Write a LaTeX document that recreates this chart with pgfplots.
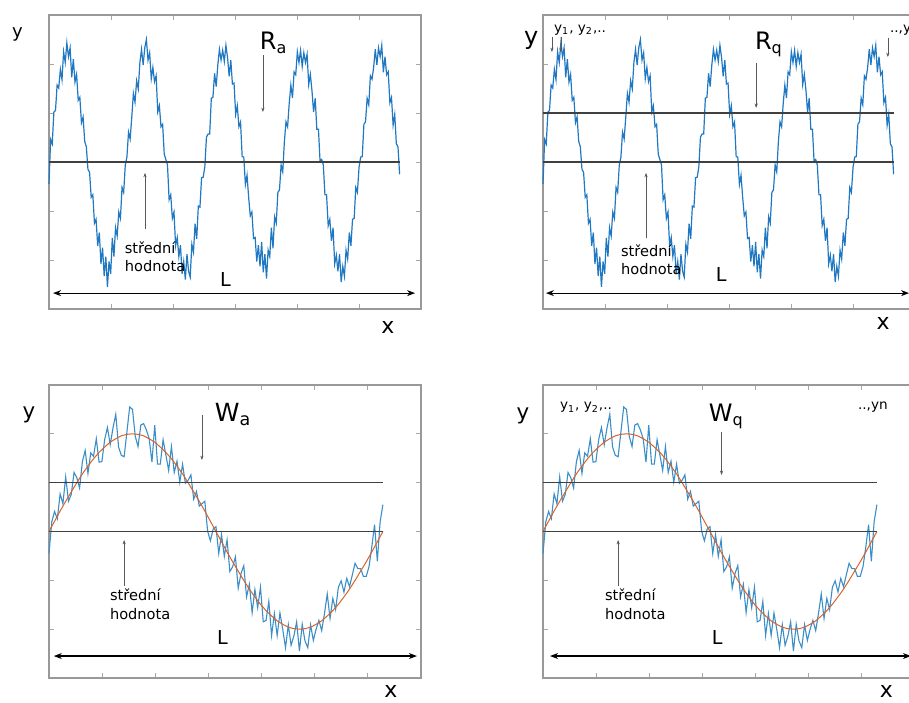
\documentclass[border=0pt]{standalone}
\usepackage{fontspec}
\setmainfont{DejaVu Sans}
\usepackage{pgfplots}
\pgfplotsset{compat=1.18}
\usepackage{pgfplotstable}
\usetikzlibrary{arrows.meta}
\definecolor{mblue}{HTML}{1F78C1}
\definecolor{lblue}{HTML}{3B8EC6}
\definecolor{morange}{HTML}{D9622B}

% top signal: index k (x = k*pi/120), noisy value
\pgfplotstableread[row sep=\\]{
k y\\
0 -0.45\\ 1 0.46\\ 2 0.37\\ 3 1.02\\ 4 1.05\\ 5 1.57\\ 6 1.51\\ 7 1.89\\ 8 1.68\\ 9 2.25\\
10 2.03\\ 11 2.43\\ 12 2.15\\ 13 2.33\\ 14 1.73\\ 15 2.10\\ 16 1.63\\ 17 1.79\\ 18 1.26\\ 19 1.32\\
20 0.80\\ 21 0.92\\ 22 0.42\\ 23 0.31\\ 24 -0.15\\ 25 -0.21\\ 26 -0.72\\ 27 -0.67\\ 28 -1.25\\ 29 -1.17\\
30 -1.71\\ 31 -1.44\\ 32 -2.08\\ 33 -1.75\\ 34 -2.33\\ 35 -1.93\\ 36 -2.55\\ 37 -2.03\\ 38 -2.28\\ 39 -1.55\\
40 -1.93\\ 41 -1.34\\ 42 -1.51\\ 43 -1.02\\ 44 -1.15\\ 45 -0.52\\ 46 -0.62\\ 47 -0.06\\
48 0.10\\ 49 0.61\\ 50 0.47\\ 51 0.92\\ 52 1.40\\ 53 1.22\\ 54 1.66\\ 55 1.49\\ 56 2.03\\ 57 2.30\\
58 1.98\\ 59 2.33\\ 60 2.50\\ 61 2.08\\ 62 2.23\\ 63 1.70\\ 64 1.93\\ 65 1.64\\ 66 1.76\\ 67 1.02\\
68 1.15\\ 69 0.72\\ 70 0.77\\ 71 0.16\\ 72 0.05\\ 73 -0.06\\ 74 -0.77\\ 75 -0.67\\ 76 -1.15\\ 77 -1.02\\
78 -1.71\\ 79 -1.54\\ 80 -1.93\\ 81 -1.70\\ 82 -2.28\\ 83 -2.03\\ 84 -2.40\\ 85 -1.88\\ 86 -2.23\\ 87 -2.35\\
88 -1.68\\ 89 -1.84\\ 90 -1.26\\ 91 -1.57\\ 92 -0.90\\ 93 -0.92\\ 94 -0.32\\ 95 -0.31\\
96 -0.10\\ 97 0.51\\ 98 0.57\\ 99 0.57\\ 100 1.30\\ 101 1.32\\ 102 1.81\\ 103 1.54\\ 104 1.98\\ 105 2.30\\
106 2.08\\ 107 2.28\\ 108 2.05\\ 109 2.38\\ 110 2.13\\ 111 1.75\\ 112 2.08\\ 113 1.59\\ 114 1.61\\ 115 0.97\\
116 1.15\\ 117 0.72\\ 118 0.82\\ 119 0.11\\ 120 0.10\\ 121 -0.46\\ 122 -0.27\\ 123 -0.72\\ 124 -1.10\\ 125 -1.02\\
126 -1.56\\ 127 -1.54\\ 128 -2.03\\ 129 -1.70\\ 130 -2.13\\ 131 -1.63\\ 132 -2.25\\ 133 -1.88\\ 134 -2.38\\ 135 -1.80\\
136 -1.93\\ 137 -1.34\\ 138 -1.76\\ 139 -1.12\\ 140 -1.25\\ 141 -0.62\\ 142 -0.57\\ 143 -0.06\\
144 -0.20\\ 145 0.41\\ 146 0.82\\ 147 0.72\\ 148 1.20\\ 149 1.57\\ 150 1.31\\ 151 1.84\\ 152 1.78\\ 153 2.25\\
154 2.03\\ 155 2.28\\ 156 1.95\\ 157 2.23\\ 158 2.03\\ 159 2.20\\ 160 1.58\\ 161 1.79\\ 162 1.46\\ 163 1.02\\
164 1.30\\ 165 0.67\\ 166 0.67\\ 167 0.01\\ 168 0.05\\ 169 -0.06\\ 170 -0.67\\ 171 -0.67\\ 172 -1.30\\ 173 -1.17\\
174 -1.61\\ 175 -1.34\\ 176 -2.08\\ 177 -1.90\\ 178 -2.23\\ 179 -1.88\\ 180 -2.45\\ 181 -2.13\\ 182 -2.33\\ 183 -1.80\\
184 -1.98\\ 185 -1.44\\ 186 -1.71\\ 187 -1.17\\ 188 -1.15\\ 189 -0.52\\ 190 -0.62\\ 191 -0.11\\
192 0.10\\ 193 0.11\\ 194 0.77\\ 195 0.82\\ 196 1.30\\ 197 1.17\\ 198 1.76\\ 199 1.69\\ 200 1.93\\ 201 2.30\\
202 1.98\\ 203 2.33\\ 204 2.15\\ 205 2.38\\ 206 1.83\\ 207 2.15\\ 208 1.78\\ 209 1.84\\ 210 1.21\\ 211 1.32\\
212 0.75\\ 213 0.97\\ 214 0.37\\ 215 0.31\\ 216 -0.25\\
}\topsig

% bottom signal: index k (x = k*pi/60), noisy value
\pgfplotstableread[row sep=\\]{
k y\\
0 -0.45\\ 1 0.20\\ 2 0.41\\ 3 0.26\\ 4 0.77\\ 5 0.57\\ 6 1.12\\ 7 0.62\\ 8 0.76\\ 9 1.21\\
10 1.10\\ 11 0.89\\ 12 1.43\\ 13 1.66\\ 14 1.19\\ 15 1.61\\ 16 1.54\\ 17 1.90\\ 18 1.42\\ 19 1.43\\
20 1.88\\ 21 2.13\\ 22 1.78\\ 23 2.12\\ 24 2.40\\ 25 1.73\\ 26 1.56\\ 27 1.53\\ 28 2.04\\ 29 2.55\\
30 2.50\\ 31 1.95\\ 32 1.74\\ 33 2.18\\ 34 2.21\\ 35 2.08\\ 36 1.90\\ 37 1.42\\ 38 2.18\\ 39 1.38\\
40 1.38\\ 41 1.88\\ 42 1.57\\ 43 1.25\\ 44 1.74\\ 45 1.21\\ 46 1.44\\ 47 1.01\\ 48 1.38\\ 49 0.99\\
50 1.05\\ 51 1.16\\ 52 0.66\\ 53 0.82\\ 54 0.52\\ 55 0.57\\ 56 0.62\\ 57 0.01\\ 58 -0.19\\ 59 0.05\\
60 0.10\\ 61 -0.45\\ 62 -0.06\\ 63 -0.51\\ 64 -0.17\\ 65 -0.82\\ 66 -0.72\\ 67 -0.52\\ 68 -1.16\\ 69 -0.86\\
70 -0.70\\ 71 -1.34\\ 72 -1.08\\ 73 -1.66\\ 74 -1.19\\ 75 -1.56\\ 76 -1.14\\ 77 -1.85\\ 78 -1.82\\ 79 -1.43\\
80 -2.13\\ 81 -1.68\\ 82 -2.13\\ 83 -1.67\\ 84 -2.00\\ 85 -2.38\\ 86 -1.91\\ 87 -2.33\\ 88 -2.14\\ 89 -1.85\\
90 -2.45\\ 91 -1.90\\ 92 -2.24\\ 93 -2.38\\ 94 -1.91\\ 95 -2.23\\ 96 -2.00\\ 97 -1.82\\ 98 -2.03\\ 99 -1.68\\
100 -1.28\\ 101 -1.78\\ 102 -1.37\\ 103 -1.60\\ 104 -1.14\\ 105 -1.01\\ 106 -1.24\\ 107 -0.96\\ 108 -1.13\\ 109 -0.89\\
110 -0.65\\ 111 -0.76\\ 112 -0.76\\ 113 -0.92\\ 114 -0.92\\ 115 -0.72\\ 116 -0.32\\ 117 0.14\\ 118 -0.61\\ 119 0.20\\
120 0.55\\
}\botsig

% bottom smooth wave
\pgfplotstableread[row sep=\\]{
k y\\
0 0\\ 2 0.21\\ 4 0.42\\ 6 0.62\\ 8 0.81\\ 10 1.00\\ 12 1.18\\ 14 1.34\\ 16 1.49\\ 18 1.62\\
20 1.73\\ 22 1.83\\ 24 1.90\\ 26 1.96\\ 28 1.99\\ 30 2.00\\ 32 1.99\\ 34 1.96\\ 36 1.90\\ 38 1.83\\
40 1.73\\ 42 1.62\\ 44 1.49\\ 46 1.34\\ 48 1.18\\ 50 1.00\\ 52 0.81\\ 54 0.62\\ 56 0.42\\ 58 0.21\\
60 0\\ 62 -0.21\\ 64 -0.42\\ 66 -0.62\\ 68 -0.81\\ 70 -1.00\\ 72 -1.18\\ 74 -1.34\\ 76 -1.49\\ 78 -1.62\\
80 -1.73\\ 82 -1.83\\ 84 -1.90\\ 86 -1.96\\ 88 -1.99\\ 90 -2.00\\ 92 -1.99\\ 94 -1.96\\ 96 -1.90\\ 98 -1.83\\
100 -1.73\\ 102 -1.62\\ 104 -1.49\\ 106 -1.34\\ 108 -1.18\\ 110 -1.00\\ 112 -0.81\\ 114 -0.62\\ 116 -0.42\\ 118 -0.21\\
120 0\\
}\botsmooth

\pgfplotsset{
  panel/.style={scale only axis, width=186pt, anchor=south west, clip=false,
    ymin=-3, ymax=3, ytick={-2,-1,0,1,2}, yticklabels={}, xticklabels={},
    axis line style={black!40, line width=0.8pt},
    major tick style={black!35, line width=0.4pt}, major tick length=2.5pt,
    tick align=inside},
  toppanel/.style={panel, height=147pt, xmin=0, xmax=229.18,
    xtick={38.2,76.39,114.59,152.79,190.99}},
  botpanel/.style={panel, height=146.5pt, xmin=0, xmax=133.69,
    xtick={19.1,38.2,57.3,76.39,95.49,114.59}},
}
\tikzset{
  ann/.style={-{Stealth[length=2.2pt,width=1.6pt]}, draw=black!65, line width=0.3pt},
  dbl/.style={{Stealth[length=4pt,width=3pt]}-{Stealth[length=4pt,width=3pt]}, draw=black, line width=0.55pt},
  mean/.style={draw=black!75, line width=0.6pt},
  sig/.style={mblue, line width=0.6pt},
  bsig/.style={lblue, line width=0.55pt},
  small/.style={font=\fontsize{7.3}{8.8}\selectfont},
  tiny/.style={font=\fontsize{6.8}{8}\selectfont},
}

\begin{document}
\begin{tikzpicture}
\useasboundingbox (0,0) rectangle (454.5pt,351pt);
\clip (0,0) rectangle (454.5pt,351pt);

% ---------- top left: R_a ----------
\begin{axis}[toppanel, at={(24.5pt,196.5pt)}]
\addplot[sig] table[x=k,y=y] {\topsig};
\addplot[mean] coordinates {(0,0) (216,0)};
\node[anchor=base, font=\fontsize{9}{10}\selectfont] at (rel axis cs:-0.085,0.922) {y};
\node[anchor=base west, font=\fontsize{12}{14}\selectfont] at (rel axis cs:0.548,0.881) {R\textsubscript{a}};
\draw[ann] (rel axis cs:0.575,0.864) -- (rel axis cs:0.575,0.670);
\node[anchor=base west, small] at (rel axis cs:0.185,0.190) {střední};
\node[anchor=base west, small] at (rel axis cs:0.185,0.126) {hodnota};
\draw[ann] (rel axis cs:0.258,0.272) -- (rel axis cs:0.258,0.463);
\node[anchor=base west, font=\fontsize{9.6}{11}\selectfont] at (rel axis cs:0.441,0.075) {L};
\draw[dbl] (rel axis cs:0.011,0.054) -- (rel axis cs:0.984,0.054);
\node[anchor=base, font=\fontsize{11}{12}\selectfont] at (rel axis cs:0.911,-0.085) {x};
\end{axis}

% ---------- top right: R_q ----------
\begin{axis}[toppanel, at={(271.5pt,196.5pt)}]
\addplot[sig] table[x=k,y=y] {\topsig};
\addplot[mean] coordinates {(0,0) (216,0)};
\addplot[mean] coordinates {(0,1) (216,1)};
\node[anchor=base, font=\fontsize{12}{14}\selectfont] at (rel axis cs:-0.032,0.898) {y};
\node[anchor=base west, tiny] at (rel axis cs:0.011,0.942) {y\textsubscript{1}, y\textsubscript{2},..};
\draw[ann] (rel axis cs:0.024,0.925) -- (rel axis cs:0.024,0.874);
\draw[ann] (rel axis cs:0.048,0.925) -- (rel axis cs:0.048,0.874);
\node[anchor=base west, tiny] at (rel axis cs:0.914,0.942) {..,yn};
\draw[ann] (rel axis cs:0.927,0.922) -- (rel axis cs:0.927,0.857);
\node[anchor=base west, font=\fontsize{12}{14}\selectfont] at (rel axis cs:0.551,0.881) {R\textsubscript{q}};
\draw[ann] (rel axis cs:0.573,0.837) -- (rel axis cs:0.573,0.684);
\node[anchor=base west, small] at (rel axis cs:0.191,0.177) {střední};
\node[anchor=base west, small] at (rel axis cs:0.191,0.116) {hodnota};
\draw[ann] (rel axis cs:0.277,0.241) -- (rel axis cs:0.277,0.463);
\node[anchor=base west, font=\fontsize{9.6}{11}\selectfont] at (rel axis cs:0.446,0.092) {L};
\draw[dbl] (rel axis cs:0.008,0.054) -- (rel axis cs:0.984,0.054);
\node[anchor=base, font=\fontsize{11}{12}\selectfont] at (rel axis cs:0.914,-0.071) {x};
\end{axis}

% ---------- bottom left: W_a ----------
\begin{axis}[botpanel, at={(24.5pt,12pt)}]
\addplot[bsig] table[x=k,y=y] {\botsig};
\addplot[morange, line width=0.5pt] table[x=k,y=y] {\botsmooth};
\addplot[mean] coordinates {(0,0) (120,0)};
\addplot[mean] coordinates {(0,1) (120,1)};
\node[anchor=base, font=\fontsize{10.7}{12}\selectfont] at (rel axis cs:-0.054,0.884) {y};
\node[anchor=base west, font=\fontsize{12.5}{14}\selectfont] at (rel axis cs:0.427,0.874) {W\textsubscript{a}};
\draw[ann] (rel axis cs:0.411,0.898) -- (rel axis cs:0.411,0.744);
\node[anchor=base west, small] at (rel axis cs:0.145,0.263) {střední};
\node[anchor=base west, small] at (rel axis cs:0.145,0.201) {hodnota};
\draw[ann] (rel axis cs:0.202,0.314) -- (rel axis cs:0.202,0.471);
\node[anchor=base west, font=\fontsize{9.6}{11}\selectfont] at (rel axis cs:0.433,0.116) {L};
\draw[dbl] (rel axis cs:0.013,0.075) -- (rel axis cs:0.989,0.075);
\node[anchor=base, font=\fontsize{11}{12}\selectfont] at (rel axis cs:0.919,-0.068) {x};
\end{axis}

% ---------- bottom right: W_q ----------
\begin{axis}[botpanel, at={(271.5pt,12pt)}]
\addplot[bsig] table[x=k,y=y] {\botsig};
\addplot[morange, line width=0.5pt] table[x=k,y=y] {\botsmooth};
\addplot[mean] coordinates {(0,0) (120,0)};
\addplot[mean] coordinates {(0,1) (120,1)};
\node[anchor=base, font=\fontsize{10.7}{12}\selectfont] at (rel axis cs:-0.054,0.881) {y};
\node[anchor=base west, tiny] at (rel axis cs:0.027,0.915) {y\textsubscript{1}, y\textsubscript{2},..};
\node[anchor=base west, tiny] at (rel axis cs:0.828,0.915) {..,yn};
\node[anchor=base west, font=\fontsize{12}{14}\selectfont] at (rel axis cs:0.427,0.874) {W\textsubscript{q}};
\draw[ann] (rel axis cs:0.480,0.840) -- (rel axis cs:0.480,0.693);
\node[anchor=base west, small] at (rel axis cs:0.148,0.263) {střední};
\node[anchor=base west, small] at (rel axis cs:0.148,0.201) {hodnota};
\draw[ann] (rel axis cs:0.202,0.314) -- (rel axis cs:0.202,0.471);
\node[anchor=base west, font=\fontsize{9.6}{11}\selectfont] at (rel axis cs:0.435,0.116) {L};
\draw[dbl] (rel axis cs:0.019,0.075) -- (rel axis cs:0.989,0.075);
\node[anchor=base, font=\fontsize{11}{12}\selectfont] at (rel axis cs:0.923,-0.068) {x};
\end{axis}
\end{tikzpicture}
\end{document}
